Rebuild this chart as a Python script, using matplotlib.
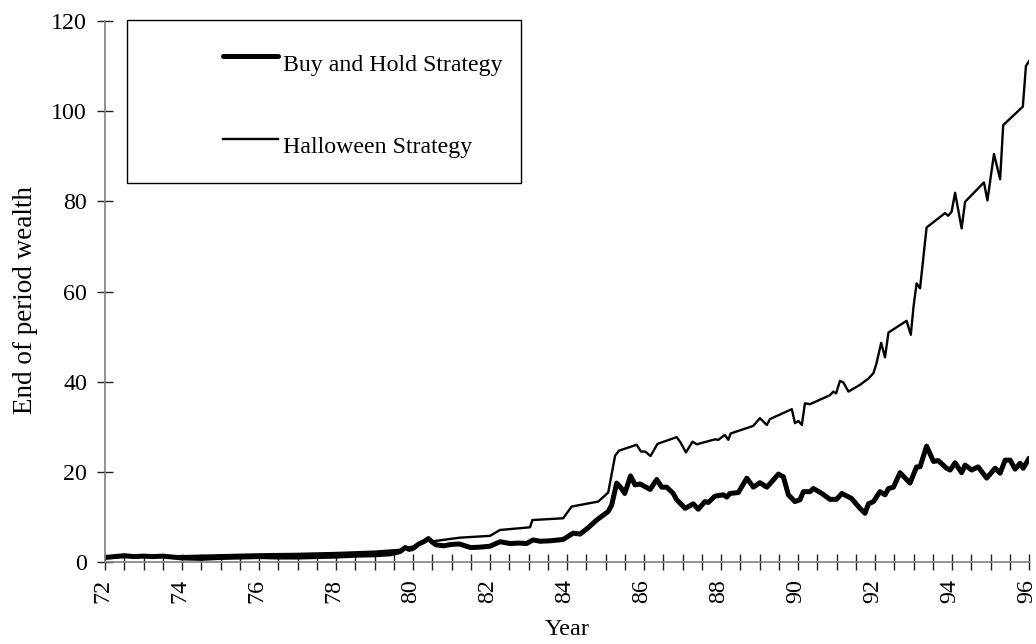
import matplotlib
matplotlib.use("Agg")
import matplotlib.pyplot as plt
import matplotlib.transforms as mtransforms
from matplotlib.patches import Rectangle
from matplotlib.ticker import MultipleLocator

# ---- data (year, end-of-period wealth) ----
bh_years = [72.0, 72.25, 72.5, 72.75, 73.0, 73.25, 73.5, 73.75, 74.0, 74.5, 75.0, 75.5,
            76.0, 76.5, 77.0, 77.5, 78.0, 78.5, 79.0, 79.4, 79.66, 79.8, 79.9, 80.0,
            80.15, 80.3, 80.4, 80.5, 80.6, 80.8, 81.0, 81.2, 81.35, 81.5, 81.75, 82.0,
            82.26, 82.52, 82.75, 82.95, 83.12, 83.3, 83.56, 83.9, 84.16, 84.34, 84.55,
            84.77, 85.07, 85.16, 85.29, 85.4, 85.5, 85.65, 85.77, 85.9, 86.16, 86.33,
            86.46, 86.59, 86.76, 86.85, 87.07, 87.28, 87.41, 87.58, 87.67, 87.84, 88.06,
            88.15, 88.23, 88.45, 88.67, 88.84, 89.01, 89.19, 89.36, 89.49, 89.62, 89.75,
            89.92, 90.05, 90.14, 90.31, 90.4, 90.62, 90.83, 91.0, 91.14, 91.39, 91.61,
            91.74, 91.83, 91.96, 92.13, 92.26, 92.35, 92.48, 92.65, 92.91, 93.08, 93.17,
            93.34, 93.52, 93.64, 93.86, 93.95, 94.08, 94.25, 94.34, 94.51, 94.68, 94.9,
            95.12, 95.25, 95.38, 95.51, 95.64, 95.77, 95.85, 96.0]
bh_values = [1.0, 1.2, 1.4, 1.2, 1.3, 1.2, 1.3, 1.1, 0.9, 0.8, 1.0, 1.1,
             1.2, 1.1, 1.1, 1.2, 1.3, 1.5, 1.6, 1.8, 2.3, 3.2, 2.8, 3.0,
             4.0, 4.6, 5.2, 4.4, 3.8, 3.6, 3.9, 4.0, 3.6, 3.2, 3.3, 3.5,
             4.5, 4.1, 4.2, 4.1, 4.9, 4.6, 4.7, 5.0, 6.4, 6.2, 7.6,
             9.3, 11.2, 12.6, 17.5, 16.5, 15.2, 19.1, 17.1, 17.3, 16.1, 18.3,
             16.6, 16.6, 15.2, 13.8, 11.9, 12.9, 11.7, 13.4, 13.2, 14.6, 14.9,
             14.4, 15.2, 15.4, 18.6, 16.6, 17.6, 16.6, 18.2, 19.5, 18.9, 14.9,
             13.4, 13.8, 15.6, 15.6, 16.3, 15.2, 13.9, 13.9, 15.2, 14.1, 11.9,
             10.8, 12.9, 13.4, 15.6, 14.9, 16.3, 16.6, 19.8, 17.5, 21.1, 21.1,
             25.7, 22.3, 22.5, 20.8, 20.4, 22.0, 19.8, 21.5, 20.4, 21.1, 18.6,
             20.8, 19.7, 22.6, 22.6, 20.6, 21.9, 20.8, 23.0]

hw_years = [72.0, 73.0, 74.0, 75.0, 76.0, 77.0, 78.0, 79.0, 79.66, 79.8, 80.0, 80.2,
            80.4, 80.52, 80.96, 81.22, 82.0, 82.26, 83.04, 83.1, 83.9, 84.12, 84.81,
            85.07, 85.25, 85.35, 85.81, 85.92, 86.03, 86.17, 86.35, 86.85, 86.95, 87.09,
            87.26, 87.37, 87.84, 87.93, 88.1, 88.19, 88.25, 88.84, 89.01, 89.19, 89.27,
            89.84, 89.92, 90.01, 90.1, 90.18, 90.31, 90.83, 90.92, 90.99, 91.09, 91.18,
            91.31, 91.61, 91.83, 91.96, 92.04, 92.16, 92.26, 92.35, 92.82, 92.93, 93.0,
            93.08, 93.17, 93.34, 93.82, 93.9, 93.99, 94.08, 94.25, 94.34, 94.83, 94.92,
            95.09, 95.25, 95.33, 95.84, 95.92, 96.0]
hw_values = [1.0, 1.2, 1.3, 1.5, 1.7, 1.8, 2.0, 2.3, 2.7, 3.2, 3.4, 4.2,
             5.0, 4.6, 5.1, 5.4, 5.8, 7.1, 7.7, 9.3, 9.7, 12.3, 13.4,
             15.4, 23.6, 24.7, 26.0, 24.5, 24.5, 23.5, 26.2, 27.7, 26.5, 24.3,
             26.7, 26.1, 27.2, 27.1, 28.2, 27.1, 28.5, 30.2, 31.9, 30.4, 31.7,
             33.9, 30.8, 31.3, 30.4, 35.2, 35.0, 37.0, 37.8, 37.4, 40.2, 39.8,
             37.8, 39.3, 40.7, 41.9, 44.1, 48.6, 45.4, 50.9, 53.5, 50.4, 56.6,
             61.8, 60.7, 74.2, 77.4, 76.8, 77.7, 81.9, 74.0, 79.9, 84.2, 80.2,
             90.5, 84.9, 96.9, 101.0, 110.0, 111.1]

major_ticks = list(range(72, 97, 2))
major_labels = [str(t) for t in major_ticks]
y_ticks = [0, 20, 40, 60, 80, 100, 120]

plt.rcParams['font.family'] = ['Liberation Serif', 'DejaVu Serif']

fig = plt.figure(figsize=(10.36, 6.44), dpi=100)
ax = fig.add_axes([105/1036, 82/644, (1029-105)/1036, (562-21)/644])

ax.plot(bh_years, bh_values, color='black', lw=3.6, solid_joinstyle='round',
        solid_capstyle='round', label='Buy and Hold Strategy')
ax.plot(hw_years, hw_values, color='black', lw=1.7, solid_joinstyle='round',
        label='Halloween Strategy')

ax.set_xlim(72, 96)
ax.set_ylim(0, 120)
ax.set_xticks(major_ticks)
ax.set_xticklabels(major_labels, rotation=90, fontsize=17.3)
ax.xaxis.set_minor_locator(MultipleLocator(0.5))
ax.set_yticks(y_ticks)
ax.set_yticklabels([str(v) for v in y_ticks], fontsize=17.3)

for side in ('top', 'right'):
    ax.spines[side].set_visible(False)
for side in ('left', 'bottom'):
    ax.spines[side].set_color('#7f7f7f')
    ax.spines[side].set_linewidth(1.2)
ax.tick_params(axis='both', which='both', direction='inout', color='#222222', width=1.0)
ax.tick_params(axis='y', which='major', length=11, pad=7.5)
ax.tick_params(axis='x', which='both', length=11, pad=7)

# nudge x tick labels slightly left so the last one stays inside the figure
shift = mtransforms.ScaledTranslation(-1.5/72, 0, fig.dpi_scale_trans)
for lbl in ax.get_xticklabels():
    lbl.set_transform(lbl.get_transform() + shift)

ax.set_xlabel('Year', fontsize=17.5, labelpad=11)
ax.set_ylabel('End of period wealth', fontsize=19.5)
ax.yaxis.set_label_coords(-0.073, 0.484)

# legend frame and entries
box = Rectangle((127/1036, 1 - 183/644), (521-127)/1036, (183-20)/644,
                transform=fig.transFigure, fill=False, edgecolor='black', lw=1.0,
                zorder=5)
fig.patches.append(box)
leg = ax.legend(loc='upper left', bbox_to_anchor=(223/1036, 1 - 54/644),
                bbox_transform=fig.transFigure, frameon=False, fontsize=17.2,
                handlelength=2.3, handletextpad=0.21, labelspacing=2.55,
                borderpad=0, borderaxespad=0)
for ln in leg.get_lines():
    ln.set_ydata([v + 4.3 for v in ln.get_ydata()])

fig.savefig('out.png', dpi=100)
